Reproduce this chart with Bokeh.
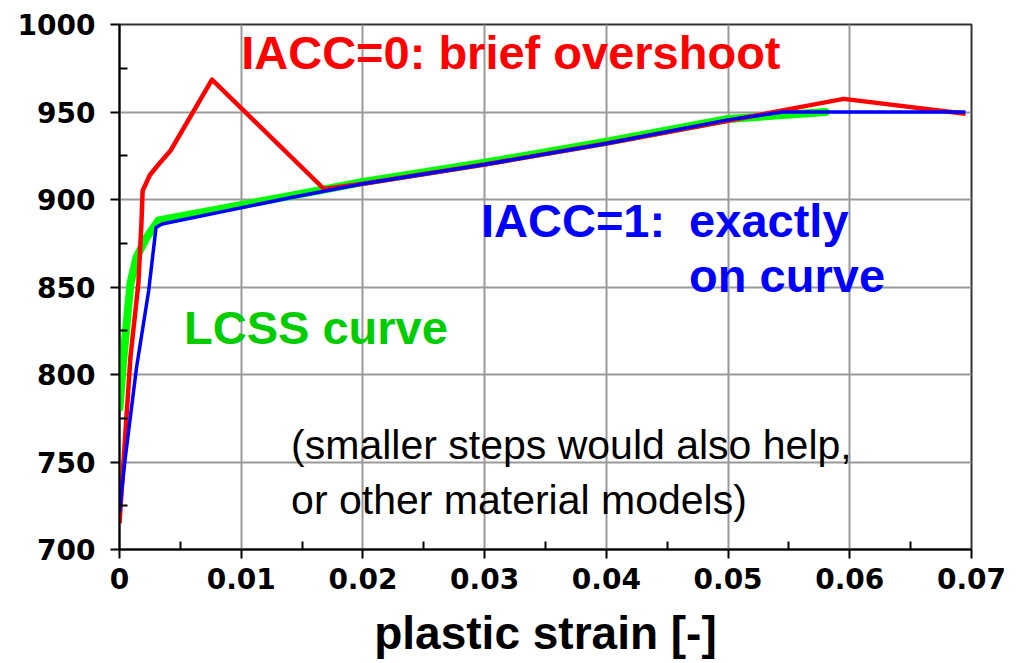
from bokeh.plotting import figure
from bokeh.models import Label, FixedTicker, Range1d
from bokeh.embed import file_html
from bokeh.resources import INLINE

# ---- data ----
lcss_strain = [0.0, 0.0003, 0.0009, 0.0014, 0.0022, 0.0032, 0.014, 0.02, 0.03, 0.04, 0.05, 0.058]
lcss_stress = [781, 808, 852, 867, 878, 888, 902, 910, 921, 933, 946, 950]

iacc0_strain = [0.0, 0.0003, 0.0009, 0.00155, 0.0018, 0.0019, 0.0025, 0.0032, 0.0042, 0.0076,
                0.0168, 0.02, 0.03, 0.04, 0.05, 0.0595, 0.0695]
iacc0_stress = [715, 747, 810, 852, 886, 905, 914, 920, 928, 968.5,
                906, 909, 920, 932, 945, 957.5, 949]

iacc1_strain = [0.0, 0.00045, 0.0014, 0.0024, 0.0030, 0.0035, 0.014, 0.02, 0.03, 0.04, 0.05, 0.0545, 0.0695]
iacc1_stress = [721, 751, 804, 848, 884, 886, 901, 909, 920, 932, 945.5, 950, 950]

x_ticks = [0, 0.01, 0.02, 0.03, 0.04, 0.05, 0.06, 0.07]
x_tick_labels = ["0", "0.01", "0.02", "0.03", "0.04", "0.05", "0.06", "0.07"]
x_minor = [0.005, 0.015, 0.025, 0.035, 0.045, 0.055, 0.065]
y_ticks = [700, 750, 800, 850, 900, 950, 1000]
y_tick_labels = ["700", "750", "800", "850", "900", "950", "1000"]
y_minor = [725, 775, 825, 875, 925, 975]

p = figure(width=1021, height=663, output_backend="svg", toolbar_location=None,
           x_range=Range1d(0, 0.07), y_range=Range1d(700, 1000),
           min_border_left=119, min_border_right=50, min_border_top=24, min_border_bottom=114)
p.background_fill_color = "white"
p.border_fill_color = "white"
p.outline_line_color = "#333333"
p.outline_line_width = 2

p.xaxis.ticker = FixedTicker(ticks=x_ticks, minor_ticks=x_minor)
p.yaxis.ticker = FixedTicker(ticks=y_ticks, minor_ticks=y_minor)
p.xaxis.major_label_overrides = {t: l for t, l in zip(x_ticks, x_tick_labels)}
p.yaxis.major_label_overrides = {t: l for t, l in zip(y_ticks, y_tick_labels)}

for ax in (p.xaxis, p.yaxis):
    ax.axis_line_color = "black"
    ax.axis_line_width = 2
    ax.major_tick_line_color = "black"
    ax.major_tick_line_width = 2
    ax.minor_tick_line_color = "black"
    ax.minor_tick_line_width = 2
    ax.major_tick_out = 9
    ax.major_tick_in = 0
    ax.minor_tick_out = 0
    ax.minor_tick_in = 8
    ax.major_label_text_font = "DejaVu Sans"
    ax.major_label_text_font_style = "bold"
    ax.major_label_text_font_size = "28px"
    ax.major_label_text_color = "black"

p.xaxis.major_label_standoff = 9
p.yaxis.major_label_standoff = 15
p.xaxis.axis_label = "plastic strain [-]"
p.xaxis.axis_label_text_font = "Liberation Sans"
p.xaxis.axis_label_text_font_style = "bold"
p.xaxis.axis_label_text_font_size = "46px"
p.xaxis.axis_label_text_color = "black"
p.xaxis.axis_label_standoff = 15

p.xgrid.grid_line_color = "#999999"
p.xgrid.grid_line_width = 2
p.ygrid.grid_line_color = "#999999"
p.ygrid.grid_line_width = 2

p.line(lcss_strain, lcss_stress, line_color="#00ff00", line_width=8, line_cap="round", line_join="round")
p.line(iacc0_strain, iacc0_stress, line_color="#ff0000", line_width=4.5, line_join="round")
p.line(iacc1_strain, iacc1_stress, line_color="#0000ff", line_width=3.5, line_join="round")

def lab(x, y, text, color, size="47px", style="bold"):
    p.add_layout(Label(x=x, y=y, x_units="data", y_units="data", text=text,
                       text_font="Liberation Sans", text_font_style=style,
                       text_font_size=size, text_color=color,
                       text_align="left", text_baseline="alphabetic"))

lab(0.0100, 983.9, "IACC=0: brief overshoot", "#ff0000")
lab(0.0297, 888.1, "IACC=1:", "#0000ff")
lab(0.0468, 888.1, "exactly", "#0000ff")
lab(0.0468, 856.6, "on curve", "#0000ff")
lab(0.0053, 827.1, "LCSS curve", "#00cc00")
lab(0.0141, 759.7, "(smaller steps would also help,", "black", size="41px", style="normal")
lab(0.0141, 728.3, "or other material models)", "black", size="41px", style="normal")

open("out.html", "w").write(file_html(p, INLINE))
